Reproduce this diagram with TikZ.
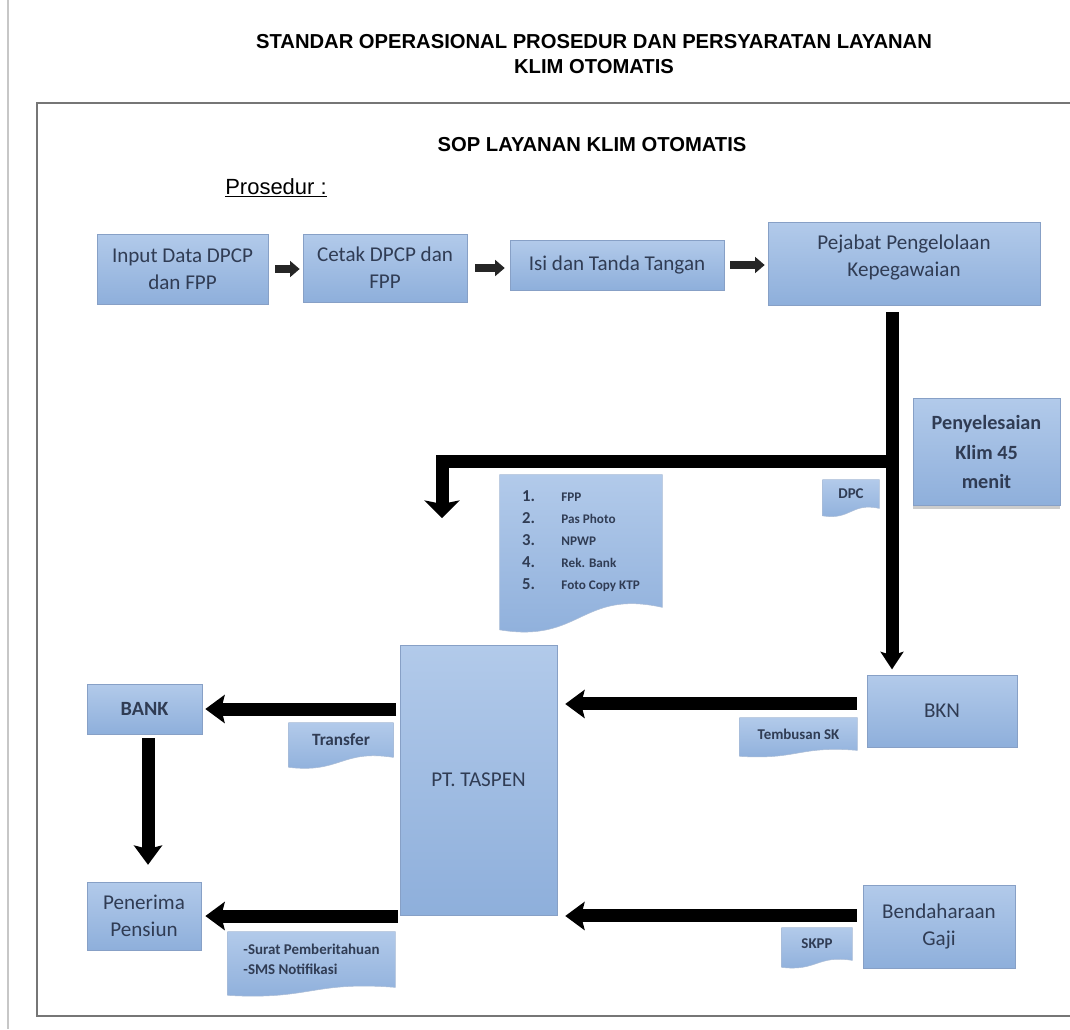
\documentclass[tikz,border=0pt]{standalone}
\usepackage{fontspec}
\setmainfont{Carlito}
\newfontfamily\arialfont{Liberation Sans}
\usetikzlibrary{arrows.meta,calc,backgrounds,shadows}
\definecolor{boxtop}{RGB}{178,202,234}
\definecolor{boxbot}{RGB}{142,175,219}
\definecolor{boxline}{RGB}{135,160,198}
\definecolor{boxtext}{RGB}{48,60,84}
\definecolor{framegray}{RGB}{118,118,118}

\begin{document}
\begin{tikzpicture}[x=0.02cm, y=-0.02cm,
  box/.style={rectangle, draw=boxline, line width=0.4pt, top color=boxtop, bottom color=boxbot,
    text=boxtext, align=center, inner sep=2pt, font=\fontsize{12}{15.5}\selectfont},
  doc/.style={rectangle, text=boxtext, inner sep=2pt, font=\bfseries\fontsize{8.5}{11}\selectfont},
  docfill/.style={draw=boxline!70, line width=0.3pt, top color=boxtop, bottom color=boxbot},
  heading/.style={font=\arialfont\bfseries\fontsize{11.5}{14}\selectfont, align=center, text=black},
  arr/.style={-{Triangle[width=9pt,length=5.5pt]}, line width=4.5pt, black!85},
  bigarr/.style={-{Stealth[width=16pt,length=11pt,inset=2pt]}, line width=7.4pt, black},
  sheet/.style={draw=framegray, line width=1.6pt}]
\useasboundingbox (0,0) rectangle (1070,1029);
\begin{scope}[on background layer]
\fill[white] (0,0) rectangle (1070,1029);
\end{scope}
\draw[black!22, line width=0.8pt] (8,0) -- (8,1029);
\draw[sheet] (1072,103) -- (37,103) -- (37,1016) -- (1072,1016);

% titles
\node[heading] (ttl) at (594,54) {STANDAR OPERASIONAL PROSEDUR DAN PERSYARATAN LAYANAN\\KLIM OTOMATIS};
\node[heading] (sop) at (592,145) {SOP LAYANAN KLIM OTOMATIS};
\node[font=\arialfont\fontsize{12.5}{14}\selectfont] (pros) at (276,188) {\underline{Prosedur :}};

% top row
\node[box, minimum width=3.42cm, minimum height=1.40cm] (b1) at (182.5,269) {Input Data DPCP\\dan FPP};
\node[box, minimum width=3.28cm, minimum height=1.36cm] (b2) at (385,268) {Cetak DPCP dan\\FPP};
\node[box, minimum width=4.28cm, minimum height=1.00cm] (b3) at (617,265) {Isi dan Tanda Tangan};
\node[box, minimum width=5.44cm, minimum height=1.66cm] (b4) at (904,263.5) {Pejabat Pengelolaan\\Kepegawaian\\[-7pt]\mbox{}};
\node[box, minimum width=2.94cm, minimum height=2.14cm, font=\bfseries\fontsize{11.5}{17}\selectfont,
  drop shadow={shadow xshift=0pt, shadow yshift=-2pt, opacity=0.4}] (klim) at (986.5,452) {Penyelesaian\\Klim 45\\menit};

% bottom part
\node[box, minimum width=3.14cm, minimum height=5.40cm] (taspen) at (478.5,780) {PT. TASPEN};
\node[box, minimum width=3.00cm, minimum height=1.44cm] (bkn) at (942,711) {BKN};
\node[box, minimum width=2.30cm, minimum height=1.00cm, font=\bfseries\fontsize{11.5}{14}\selectfont] (bank) at (144.5,709) {BANK};
\node[box, minimum width=2.28cm, minimum height=1.36cm] (pener) at (144,916) {Penerima\\Pensiun};
\node[box, minimum width=3.04cm, minimum height=1.66cm] (bend) at (939,926.5) {Bendaharaan\\Gaji};

% documents
\node[doc, minimum width=1.12cm, minimum height=0.56cm] (dpc) at (851,494) {DPC};
\node[doc, minimum width=3.24cm, minimum height=2.64cm, font=\bfseries\fontsize{7.5}{12.5}\selectfont] (syarat) at (581,541)
  {\begin{tabular}{@{}l@{\hspace{15pt}}l@{}}
   {\fontsize{9.5}{12.5}\selectfont 1.} & FPP\\
   {\fontsize{9.5}{12.5}\selectfont 2.} & Pas Photo\\
   {\fontsize{9.5}{12.5}\selectfont 3.} & NPWP\\
   {\fontsize{9.5}{12.5}\selectfont 4.} & Rek. Bank\\
   {\fontsize{9.5}{12.5}\selectfont 5.} & Foto Copy KTP
   \end{tabular}};
\node[doc, minimum width=2.08cm, minimum height=0.68cm, font=\bfseries\fontsize{9.8}{12}\selectfont] (trf) at (341,740) {Transfer};
\node[doc, minimum width=2.34cm, minimum height=0.64cm] (tsk) at (798.5,734) {Tembusan SK};
\node[doc, minimum width=3.34cm, minimum height=1.10cm, align=left, font=\bfseries\fontsize{8.5}{11.5}\selectfont] (notif) at (311.5,959.5) {-Surat Pemberitahuan\\-SMS Notifikasi};
\node[doc, minimum width=1.40cm, minimum height=0.64cm] (skpp) at (817,944) {SKPP};

\begin{scope}[on background layer]
\foreach \d/\a in {dpc/1.5, syarat/4.5, trf/2, tsk/1.2, notif/1.6, skpp/1.4}
  \shadedraw[docfill] (\d.north west) -- (\d.north east) -- (\d.south east)
    .. controls ($(\d.south)+(0,-4*\a)$) and ($(\d.south)+(0,8*\a)$) .. ($(\d.south west)+(0,5*\a)$) -- cycle;
\end{scope}

% arrows
\draw[arr, shorten <=4pt, shorten >=1.7pt] (b1.east) -- (b1.east -| b2.west);
\draw[arr, shorten <=4.5pt, shorten >=2.8pt] (b2.east) -- (b2.east -| b3.west);
\draw[arr, shorten <=3.4pt, shorten >=1.7pt] (b3.east) -- (b3.east -| b4.west);

\coordinate (split) at (892,461);
\coordinate (drop) at (442,518);
\draw[bigarr, -{Stealth[width=13pt,length=10pt,inset=2pt]}, shorten <=4pt, shorten >=3pt] (b4.south -| split) -- (bkn.north -| split);
\draw[bigarr, -{Stealth[width=20pt,length=10pt,inset=2pt]}] (split) -| (drop);

\draw[bigarr, shorten <=2pt, shorten >=1.7pt] (taspen.west |- bank) -- (bank);
\draw[bigarr, shorten <=5.7pt, shorten >=4.5pt] ([yshift=4pt]bkn.west) -- ([yshift=4pt]bkn.west -| taspen.east);
\draw[bigarr, shorten <=2.3pt, shorten >=9.6pt] ([xshift=2pt]bank.south) -- ([xshift=2pt]bank.south |- pener.north);
\draw[bigarr, shorten <=1pt, shorten >=2.3pt] (taspen.west |- pener) -- (pener);
\draw[bigarr, shorten <=3.4pt, shorten >=4.5pt] ([yshift=6pt]bend.west) -- ([yshift=6pt]bend.west -| taspen.east);
\end{tikzpicture}
\end{document}
